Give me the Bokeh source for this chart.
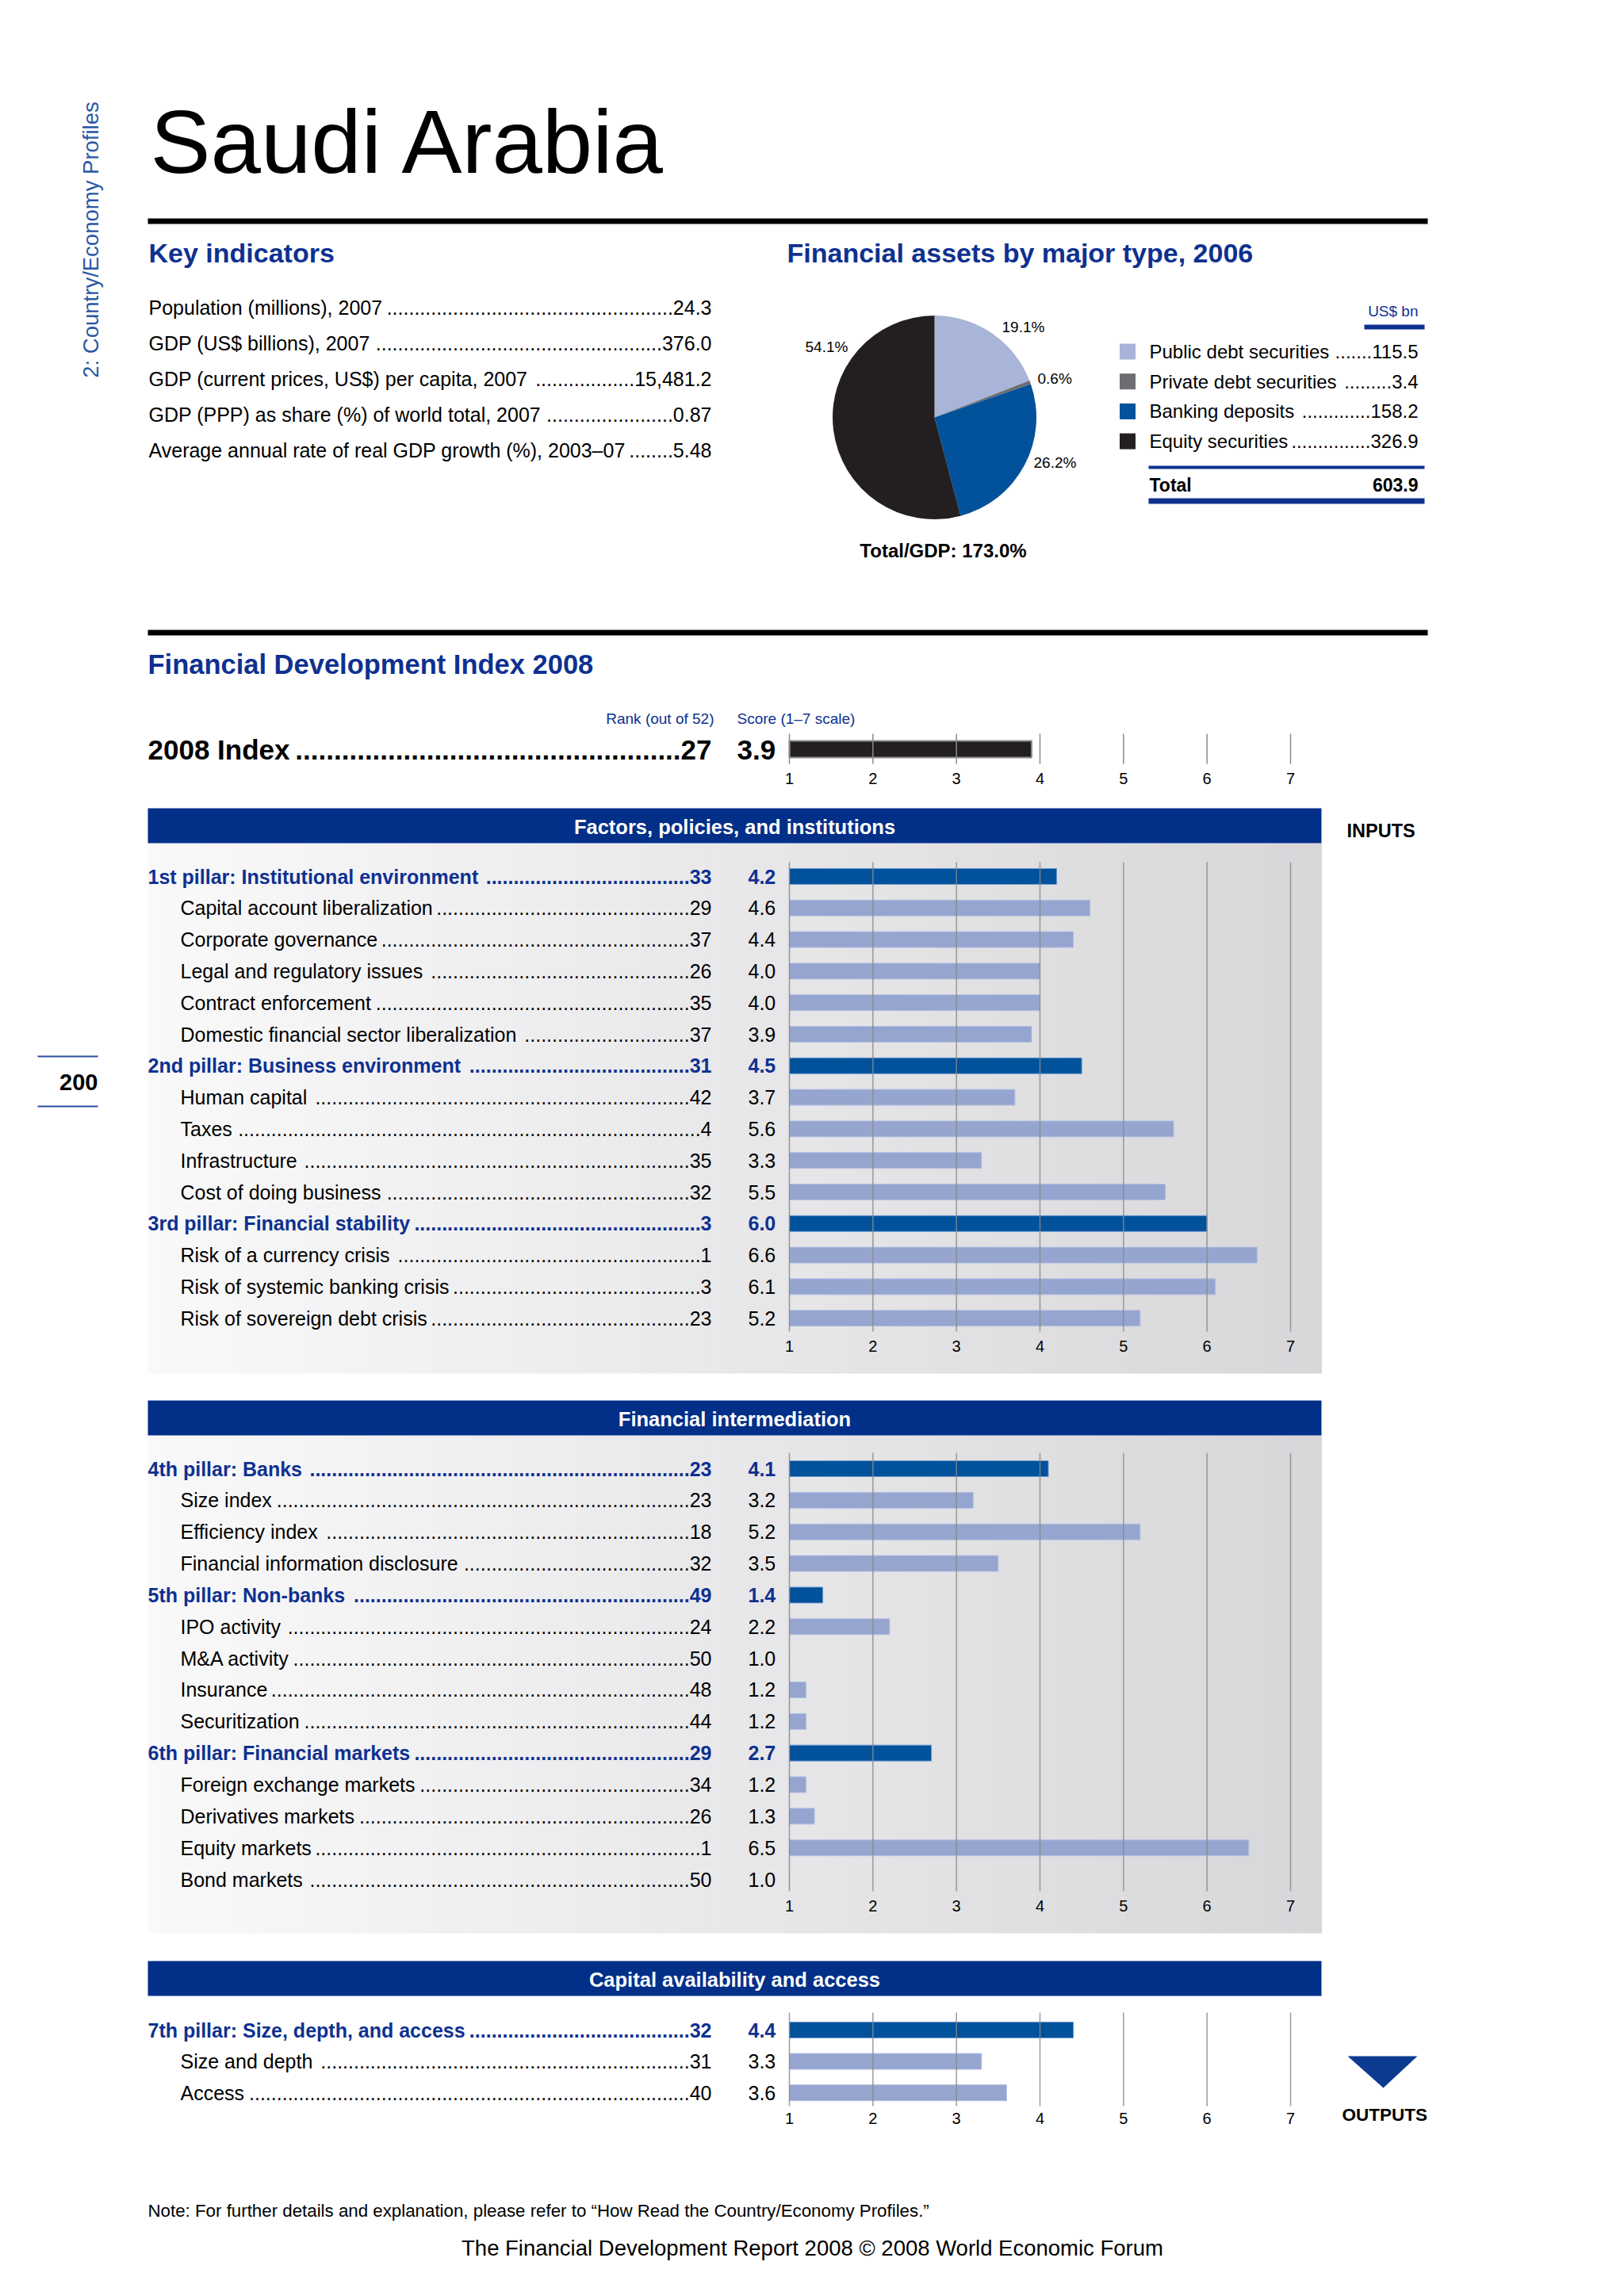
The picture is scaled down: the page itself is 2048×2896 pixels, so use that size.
import math
from bokeh.plotting import figure
from bokeh.models import Range1d, ColumnDataSource
from bokeh.core.properties import value, field
from bokeh.embed import file_html
from bokeh.resources import INLINE

# ---------------- data ----------------
country = "Saudi Arabia"
side_caption = "2: Country/Economy Profiles"
page_number = "200"

key_labels = [
    "Population (millions), 2007",
    "GDP (US$ billions), 2007",
    "GDP (current prices, US$) per capita, 2007",
    "GDP (PPP) as share (%) of world total, 2007",
    "Average annual rate of real GDP growth (%), 2003\u201307",
]
key_values = ["24.3", "376.0", "15,481.2", "0.87", "5.48"]

asset_types = ["Public debt securities", "Private debt securities",
               "Banking deposits", "Equity securities"]
asset_values = [115.5, 3.4, 158.2, 326.9]
asset_total = 603.9
total_gdp_pct = 173.0

index_rank = 27
index_score = 3.9
score_ticks = [1, 2, 3, 4, 5, 6, 7]

sec1_title = "Factors, policies, and institutions"
sec1_names = ["1st pillar: Institutional environment", "Capital account liberalization",
              "Corporate governance", "Legal and regulatory issues", "Contract enforcement",
              "Domestic financial sector liberalization", "2nd pillar: Business environment",
              "Human capital", "Taxes", "Infrastructure", "Cost of doing business",
              "3rd pillar: Financial stability", "Risk of a currency crisis",
              "Risk of systemic banking crisis", "Risk of sovereign debt crisis"]
sec1_ranks = [33, 29, 37, 26, 35, 37, 31, 42, 4, 35, 32, 3, 1, 3, 23]
sec1_scores = [4.2, 4.6, 4.4, 4.0, 4.0, 3.9, 4.5, 3.7, 5.6, 3.3, 5.5, 6.0, 6.6, 6.1, 5.2]
sec1_pillar = [1, 0, 0, 0, 0, 0, 1, 0, 0, 0, 0, 1, 0, 0, 0]

sec2_title = "Financial intermediation"
sec2_names = ["4th pillar: Banks", "Size index", "Efficiency index",
              "Financial information disclosure", "5th pillar: Non-banks", "IPO activity",
              "M&A activity", "Insurance", "Securitization", "6th pillar: Financial markets",
              "Foreign exchange markets", "Derivatives markets", "Equity markets", "Bond markets"]
sec2_ranks = [23, 23, 18, 32, 49, 24, 50, 48, 44, 29, 34, 26, 1, 50]
sec2_scores = [4.1, 3.2, 5.2, 3.5, 1.4, 2.2, 1.0, 1.2, 1.2, 2.7, 1.2, 1.3, 6.5, 1.0]
sec2_pillar = [1, 0, 0, 0, 1, 0, 0, 0, 0, 1, 0, 0, 0, 0]

sec3_title = "Capital availability and access"
sec3_names = ["7th pillar: Size, depth, and access", "Size and depth", "Access"]
sec3_ranks = [32, 31, 40]
sec3_scores = [4.4, 3.3, 3.6]
sec3_pillar = [1, 0, 0]

note_text = ("Note: For further details and explanation, please refer to "
             "\u201cHow Read the Country/Economy Profiles.\u201d")
footer_text = "The Financial Development Report 2008 \u00a9 2008 World Economic Forum"

# ---------------- styling ----------------
FONT = "Liberation Sans"
HEAD_BLUE = "#0e3190"
BAR_NAVY = "#022f88"
PILLAR_BAR = "#01519b"
SUB_BAR = "#95a5cf"
GRID = "#8a8a8a"
PIE_COLORS = ["#a9b4d9", "#6d6e71", "#01519b", "#231f20"]

# Arial / Liberation Sans advance widths (per 1000 em), used for dot leaders
UP = "ABCDEFGHIJKLMNOPQRSTUVWXYZ"
LO = "abcdefghijklmnopqrstuvwxyz"
REG = dict(zip(UP, [667, 667, 722, 722, 667, 611, 778, 722, 278, 500, 667, 556, 833, 722, 778,
                    667, 778, 722, 667, 611, 722, 667, 944, 667, 667, 611]))
REG.update(zip(LO, [556, 556, 500, 556, 556, 278, 556, 556, 222, 222, 500, 222, 833, 556, 556,
                    556, 556, 333, 500, 278, 556, 500, 722, 500, 500, 500]))
REG.update({" ": 278, "(": 333, ")": 333, ",": 278, "-": 333, ".": 278, "/": 278, ":": 278,
            "%": 889, "&": 667, "$": 556, "\u2013": 556, "\u201c": 333, "\u201d": 333})
BOLD = dict(zip(UP, [722, 722, 722, 722, 667, 611, 778, 722, 278, 556, 722, 611, 833, 722, 778,
                     667, 778, 722, 667, 611, 722, 667, 944, 667, 667, 611]))
BOLD.update(zip(LO, [556, 611, 556, 611, 556, 333, 611, 611, 278, 278, 556, 278, 889, 611, 611,
                     611, 611, 389, 556, 333, 611, 556, 778, 556, 556, 500]))
BOLD.update({" ": 278, "(": 333, ")": 333, ",": 278, "-": 333, ".": 278, "/": 278, ":": 333,
             "%": 889, "&": 722, "$": 556})


def tw(s, size, bold=False):
    t = BOLD if bold else REG
    return sum(t.get(c, 556) for c in s) / 1000.0 * size


def leader(label, x0, xr, tail, size, bold):
    free = xr - tw(tail, size, bold) - x0 - tw(label, size, bold) - 4
    n = max(2, int(free / tw(".", size, bold)))
    return "." * n + tail


W, H = 2032, 2880


def Y(py):
    return 2896 - py


p = figure(width=W, height=H, x_range=Range1d(0, 2032), y_range=Range1d(16, 2896),
           output_backend="svg", toolbar_location=None,
           x_axis_location=None, y_axis_location=None, min_border=0)
p.grid.visible = False
p.outline_line_color = None
p.background_fill_color = "white"
p.border_fill_color = "white"

# score scale: 1 -> x=995, 7 -> x=1627
U = (1627 - 995) / 6.0
p.extra_x_ranges = {"score": Range1d(1 + (0 - 995) / U, 1 + (2032 - 995) / U)}


def txt(x, y, s, size, color="black", style="normal", align="left", angle=0):
    p.text(x=[x], y=[Y(y)], text=[s], text_font=value(FONT), text_font_size=value(f"{size}px"),
           text_font_style=style, text_color=color, text_align=align, text_baseline="middle",
           angle=angle)


def band(x0, x1, y0, y1, color):
    p.quad(left=[x0], right=[x1], top=[Y(y0)], bottom=[Y(y1)], fill_color=color, line_color=None)


# ---------------- page header ----------------
txt(114, 302, side_caption, 27.5, color="#2a58a6", align="center", angle=math.pi / 2)
txt(189, 178, country, 114)
band(186, 1800, 275, 282, "black")

# page number
p.segment(x0=[47, 47], x1=[123, 123], y0=[Y(1332), Y(1395)], y1=[Y(1332), Y(1395)],
          line_color="#2b4ea0", line_width=2)
txt(123, 1364, page_number, 29, style="bold", align="right")

# ---------------- key indicators ----------------
txt(187, 318, "Key indicators", 34, color=HEAD_BLUE, style="bold")
KFS = 25
for i, (lab, val) in enumerate(zip(key_labels, key_values)):
    yy = 387 + i * 45
    txt(187, yy, lab, KFS)
    txt(897, yy, leader(lab, 187, 897, val, KFS, False), KFS, align="right")

# ---------------- financial assets pie ----------------
txt(992, 318, "Financial assets by major type, 2006", 34, color=HEAD_BLUE, style="bold")
tot = sum(asset_values)
cum = [0.0]
for v in asset_values:
    cum.append(cum[-1] + v / tot)
starts = [math.pi / 2 - 2 * math.pi * cum[i + 1] for i in range(len(asset_values))]
ends = [math.pi / 2 - 2 * math.pi * cum[i] for i in range(len(asset_values))]
p.wedge(x=1178, y=Y(526), radius=128.5, start_angle=starts, end_angle=ends,
        direction="anticlock", fill_color=PIE_COLORS, line_color=None)
pct = [f"{100 * v / asset_total:.1f}%" for v in asset_values]
pie_lab_pos = [(1263, 412), (1308, 477), (1303, 583), (1015, 437)]
for (lx, ly), s in zip(pie_lab_pos, pct):
    txt(lx, ly, s, 19)
txt(1189, 694, f"Total/GDP: {total_gdp_pct:.1f}%", 24, style="bold", align="center")

txt(1788, 392, "US$ bn", 19, color=HEAD_BLUE, align="right")
band(1720, 1796, 409, 415, HEAD_BLUE)
LFS = 24
for i, (name, v, c) in enumerate(zip(asset_types, asset_values, PIE_COLORS)):
    yy = 443 + i * 37.7
    p.rect(x=[1421.5], y=[Y(yy)], width=20, height=20, fill_color=c, line_color=None)
    txt(1449, yy, name, LFS)
    txt(1788, yy, leader(name, 1449, 1788, f"{v:.1f}", LFS, False), LFS, align="right")
band(1448, 1796, 587, 591, HEAD_BLUE)
txt(1449, 611, "Total", 23, style="bold")
txt(1788, 611, f"{asset_total:.1f}", 23, style="bold", align="right")
band(1448, 1796, 628, 635, HEAD_BLUE)

# ---------------- FDI ----------------
band(186, 1800, 794, 801, "black")
txt(186, 837, "Financial Development Index 2008", 34.5, color=HEAD_BLUE, style="bold")
txt(900, 906, "Rank (out of 52)", 19, color=HEAD_BLUE, align="right")
txt(929, 906, "Score (1\u20137 scale)", 19, color=HEAD_BLUE)
IFS = 35
txt(186, 945, "2008 Index", IFS, style="bold")
txt(897, 945, leader("2008 Index", 186, 897, str(index_rank), IFS, True), IFS,
    style="bold", align="right")
txt(929, 945, f"{index_score:.1f}", IFS, style="bold")
p.hbar(y=[Y(944.5)], left=1, right=[index_score], height=21, x_range_name="score",
       fill_color="#231f20", line_color="#8c8c8c", line_width=2)
p.segment(x0=score_ticks, x1=score_ticks, y0=Y(925), y1=Y(963), x_range_name="score",
          line_color=GRID, line_width=1.5)
p.text(x=score_ticks, y=Y(981), text=[str(t) for t in score_ticks], x_range_name="score",
       text_font=value(FONT), text_font_size=value("20px"), text_align="center",
       text_baseline="middle", text_color="black")


def gradient(x0, x1, y0, y1, n=90):
    c0 = (0xf9, 0xf9, 0xfa)
    c1 = (0xd7, 0xd7, 0xda)
    lefts, rights, cols = [], [], []
    for i in range(n):
        t = (i + 0.5) / n
        c = tuple(int(round(a + (b - a) * t)) for a, b in zip(c0, c1))
        lefts.append(x0 + (x1 - x0) * i / n)
        rights.append(x0 + (x1 - x0) * (i + 1) / n + 0.6)
        cols.append("#%02x%02x%02x" % c)
    p.quad(left=lefts, right=rights, top=Y(y0), bottom=Y(y1), fill_color=cols, line_color=None)


RFS = 25


def section(title, hdr_top, names, ranks, scores, pillars, y_first, pitch,
            grid_top, grid_bot, tick_y, bg_bottom=None):
    if bg_bottom is not None:
        gradient(186, 1666, hdr_top + 44, bg_bottom)
    band(186, 1666, hdr_top, hdr_top + 44, BAR_NAVY)
    txt(926, hdr_top + 23, title, 25.5, color="white", style="bold", align="center")
    ys = [Y(y_first + i * pitch) for i in range(len(names))]
    lx = [186 if pl else 227 for pl in pillars]
    src = ColumnDataSource(dict(
        y=ys, lx=lx, name=names,
        tail=[leader(nm, x0, 897, str(rk), RFS, bool(pl))
              for nm, x0, rk, pl in zip(names, lx, ranks, pillars)],
        score=[f"{s:.1f}" for s in scores], sval=scores,
        style=["bold" if pl else "normal" for pl in pillars],
        color=[HEAD_BLUE if pl else "black" for pl in pillars],
        fill=[PILLAR_BAR if pl else SUB_BAR for pl in pillars],
        line=["#6f9bcf" if pl else "#b3c0e2" for pl in pillars],
    ))
    common = dict(source=src, text_font=value(FONT), text_font_size=value(f"{RFS}px"),
                  text_font_style=field("style"), text_color=field("color"),
                  text_baseline="middle")
    p.text(x="lx", y="y", text="name", text_align="left", **common)
    p.text(x=897, y="y", text="tail", text_align="right", **common)
    p.text(x=943, y="y", text="score", text_align="left", **common)
    p.hbar(y="y", left=1, right="sval", height=20, source=src, x_range_name="score",
           fill_color=field("fill"), line_color=field("line"), line_width=1)
    p.segment(x0=score_ticks, x1=score_ticks, y0=Y(grid_top), y1=Y(grid_bot),
              x_range_name="score", line_color=GRID, line_width=1.5, line_alpha=0.85)
    p.text(x=score_ticks, y=Y(tick_y), text=[str(t) for t in score_ticks],
           x_range_name="score", text_font=value(FONT), text_font_size=value("20px"),
           text_align="center", text_baseline="middle", text_color="black")


section(sec1_title, 1019, sec1_names, sec1_ranks, sec1_scores, sec1_pillar,
        1105, 39.8, 1087, 1679, 1697, bg_bottom=1732)
section(sec2_title, 1766, sec2_names, sec2_ranks, sec2_scores, sec2_pillar,
        1852, 39.85, 1832, 2385, 2403, bg_bottom=2438)
section(sec3_title, 2473, sec3_names, sec3_ranks, sec3_scores, sec3_pillar,
        2560, 39.6, 2538, 2656, 2671)

txt(1698, 1047, "INPUTS", 23.5, style="bold")
p.patch(x=[1699, 1787, 1744], y=[Y(2593), Y(2593), Y(2633)], fill_color="#0c3a8f",
        line_color=None)
txt(1692, 2667, "OUTPUTS", 22.5, style="bold")

# ---------------- notes ----------------
note_fs = 987 / (sum(REG.get(c, 333) for c in note_text) / 1000.0)
txt(186, 2788, note_text, round(note_fs, 1))
txt(1024, 2835, footer_text, 27.5, align="center")

open("out.html", "w").write(file_html(p, INLINE))
